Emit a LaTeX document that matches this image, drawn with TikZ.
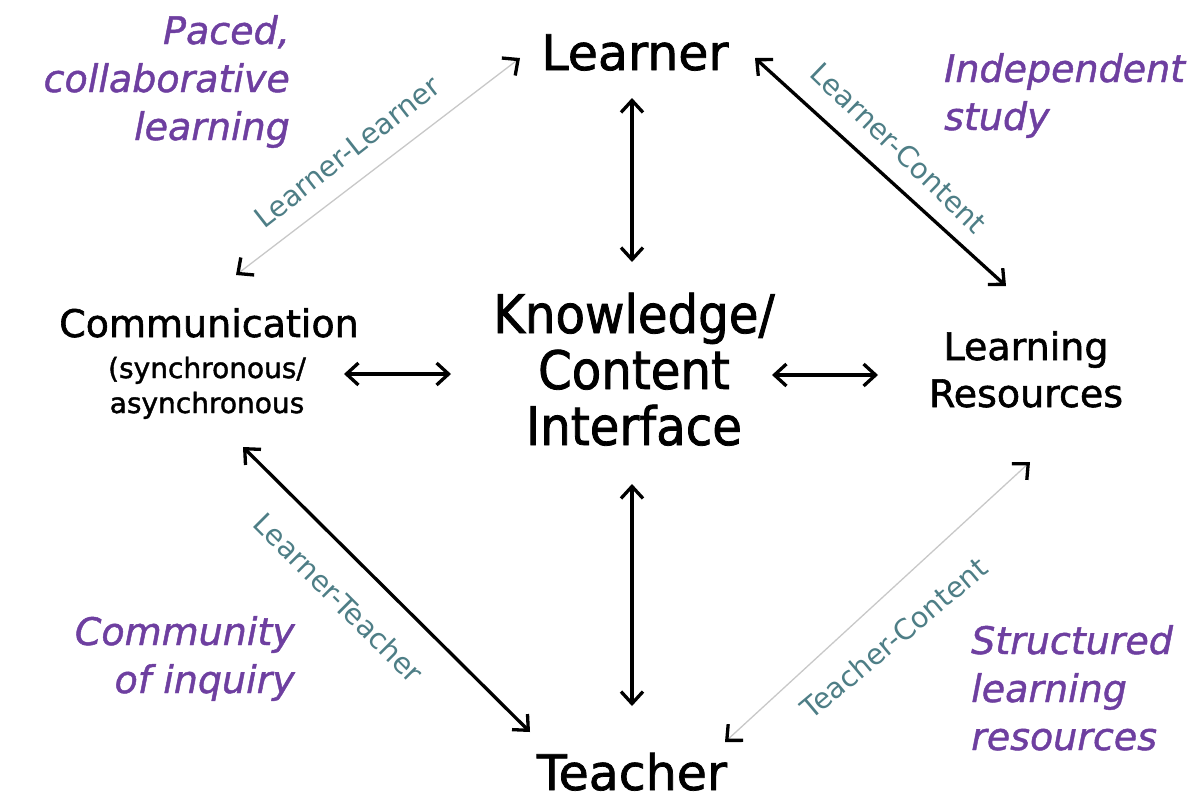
\documentclass[tikz,border=0pt]{standalone}
\usepackage{fontspec}
\setmainfont{DejaVu Sans}[FakeBold=1.5]
\newfontfamily\kcifont{DejaVu Sans}[FakeStretch=0.91,FakeBold=1.5]
\newfontfamily\purplefont{DejaVu Sans}[FakeBold=1.2]
\newfontfamily\labelfont{DejaVu Sans}
\usetikzlibrary{arrows.meta}
\definecolor{purp}{HTML}{6E3FA0}
\definecolor{tealgray}{HTML}{4E7E86}
\definecolor{lightln}{HTML}{C8C8C8}
\tikzset{
  mainnode/.style={align=center, inner sep=0pt, text=black},
  purpnode/.style={inner sep=0pt, text=purp, font=\purplefont\itshape\fontsize{38}{48}\selectfont},
  edgelabel/.style={inner sep=0pt, text=tealgray, font=\labelfont\fontsize{28.5}{30}\selectfont},
  boldarrow/.style={line width=3.3pt, black, {Straight Barb[length=12pt,width=22pt]}-{Straight Barb[length=12pt,width=22pt]}},
  thinarrow/.style={line width=1.3pt, lightln, {Straight Barb[length=12pt,width=22pt,line width=3.3pt,color=black]}-{Straight Barb[length=12pt,width=22pt,line width=3.3pt,color=black]}}
}
\begin{document}
\begin{tikzpicture}[x=1pt,y=-1pt]
\useasboundingbox (0,0) rectangle (1201,798);
% main nodes (anchor=base is the baseline of the last line)
\node[mainnode, anchor=base, font=\fontsize{49}{56}\selectfont] (learner) at (635,70) {Learner};
\node[mainnode, anchor=base, font=\fontsize{49}{56}\selectfont] (teacher) at (632,790) {Teacher};
\node[mainnode, anchor=base, font=\kcifont\fontsize{53}{56}\selectfont] (kci) at (634,445) {Knowledge/\\Content\\Interface};
\node[mainnode, anchor=base, font=\fontsize{38}{41}\selectfont] (comm) at (209,337) {Communication};
\node[mainnode, anchor=base, font=\fontsize{28}{35}\selectfont] (commsub) at (207,413) {(synchronous/\\asynchronous};
\node[mainnode, anchor=base, font=\fontsize{38}{47}\selectfont] (lr) at (1026,407) {Learning\\Resources};
% arrow end points
\coordinate (llA) at (236,275); \coordinate (llB) at (520,58);
\coordinate (lcA) at (755,58); \coordinate (lcB) at (1006,286);
\coordinate (lvA) at (632,98); \coordinate (lvB) at (632,262);
\coordinate (hlA) at (344,374); \coordinate (hlB) at (451,374);
\coordinate (hrA) at (772,375); \coordinate (hrB) at (878,375);
\coordinate (bvA) at (632,484); \coordinate (bvB) at (632,706);
\coordinate (ltA) at (243,447); \coordinate (ltB) at (530,732);
\coordinate (tcA) at (725,742); \coordinate (tcB) at (1030,462);
% connectors
\draw[thinarrow] (llA) -- (llB);
\draw[boldarrow] (lcA) -- (lcB);
\draw[boldarrow] (lvA) -- (lvB);
\draw[boldarrow] (hlA) -- (hlB);
\draw[boldarrow] (hrA) -- (hrB);
\draw[boldarrow] (bvA) -- (bvB);
\draw[boldarrow] (ltA) -- (ltB);
\draw[thinarrow] (tcA) -- (tcB);
% edge labels
\node[edgelabel, rotate=38] (lll) at (347,152) {Learner-Learner};
\node[edgelabel, rotate=-44] (lcl) at (899,148) {Learner-Content};
\node[edgelabel, rotate=-45] (ltl) at (339,598) {Learner-Teacher};
\node[edgelabel, rotate=40] (tcl) at (894,638) {Teacher-Content};
% purple captions
\node[purpnode, align=right, anchor=base east] (p1) at (290,140) {Paced,\\collaborative\\learning};
\node[purpnode, align=left, anchor=base west] (p2) at (944,130) {Independent\\study};
\node[purpnode, align=right, anchor=base east] (p3) at (295,693) {Community\\of inquiry};
\node[purpnode, align=left, anchor=base west] (p4) at (971,750) {Structured\\learning\\resources};
\end{tikzpicture}
\end{document}
